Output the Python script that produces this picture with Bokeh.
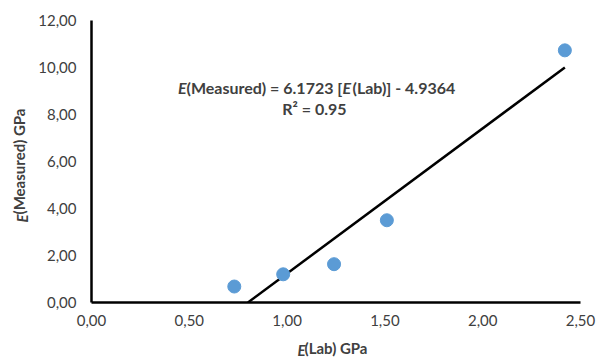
import math
from bokeh.plotting import figure
from bokeh.models import Range1d, Label, FixedTicker
from bokeh.embed import file_html
from bokeh.resources import INLINE

# ---- data ----
lab_e = [0.73, 0.98, 1.24, 1.51, 2.42]
measured_e = [0.68, 1.20, 1.63, 3.50, 10.73]
fit_slope = 6.1723
fit_intercept = -4.9364
x_ticks = [0, 0.5, 1.0, 1.5, 2.0, 2.5]
x_tick_labels = ["0,00", "0,50", "1,00", "1,50", "2,00", "2,50"]
y_ticks = [0, 2, 4, 6, 8, 10, 12]
y_tick_labels = ["0,00", "2,00", "4,00", "6,00", "8,00", "10,00", "12,00"]

FONT = "Lato"
TXT = "#404040"

p = figure(width=606, height=360, output_backend="svg", toolbar_location=None,
           x_range=Range1d(0, 2.5), y_range=Range1d(0, 12),
           min_border_left=91, min_border_right=26, min_border_top=20, min_border_bottom=58)
p.outline_line_color = None
p.xgrid.visible = False
p.ygrid.visible = False
p.background_fill_color = "white"
p.border_fill_color = "white"

for ax, ticks, labels in ((p.xaxis[0], x_ticks, x_tick_labels), (p.yaxis[0], y_ticks, y_tick_labels)):
    ax.ticker = FixedTicker(ticks=ticks)
    ax.major_label_overrides = {t: l for t, l in zip(ticks, labels)}
    ax.axis_line_color = "black"
    ax.axis_line_width = 2.5
    ax.major_tick_line_color = None
    ax.minor_tick_line_color = None
    ax.major_tick_out = 0
    ax.major_tick_in = 0
    ax.major_label_text_font = FONT
    ax.major_label_text_font_size = "15px"
    ax.major_label_text_color = TXT
    ax.axis_label_text_font = FONT
    ax.axis_label_text_font_size = "15px"
    ax.axis_label_text_font_style = "bold"
    ax.axis_label_text_color = TXT
p.xaxis.major_label_standoff = 12
p.yaxis.major_label_standoff = 15
p.xaxis.axis_label = "(Lab) GPa"
p.yaxis.axis_label = "(Measured) GPa"
p.xaxis.axis_label_standoff = 10
p.yaxis.axis_label_standoff = 7

# trend line
x_fit = [-fit_intercept / fit_slope, max(lab_e)]
y_fit = [fit_slope * x + fit_intercept for x in x_fit]
p.line(x_fit, y_fit, line_color="black", line_width=2.5)

# points
p.scatter(lab_e, measured_e, size=13, fill_color="#5B9BD5", line_color="#5B9BD5")


def mk(text, x, y, align, italic=False, size="15px", angle=0.0, x_off=0):
    return Label(x=x, y=y, x_offset=x_off, text=text,
                 text_align=align, text_baseline="middle",
                 text_font=FONT, text_font_size=size,
                 text_font_style="bold italic" if italic else "bold",
                 text_color=TXT, angle=angle)

# italic E of the axis titles: data-positioned labels held in the (unused) top/right borders
p.add_layout(mk("E", 1.094, -2.04, "right", italic=True), "above")
p.add_layout(mk("E", -0.353, 3.75, "right", italic=True, angle=math.pi / 2), "right")

# equation (centred at ~1.14 on x)
cx = 1.14
ly1 = 9.15
ly2 = 8.26
p.add_layout(mk("E", cx, ly1, "right", italic=True, size="16px", x_off=186 - 314))
p.add_layout(mk("(Measured) = 6.1723 [", cx, ly1, "left", size="16px", x_off=186 - 314))
p.add_layout(mk("E", cx, ly1, "left", italic=True, size="16px", x_off=342 - 314))
p.add_layout(mk("(Lab)] - 4.9364", cx, ly1, "left", size="16px", x_off=352 - 314))
p.add_layout(mk("R² = 0.95", cx, ly2, "center", size="16px"))

open("out.html", "w").write(file_html(p, INLINE))
